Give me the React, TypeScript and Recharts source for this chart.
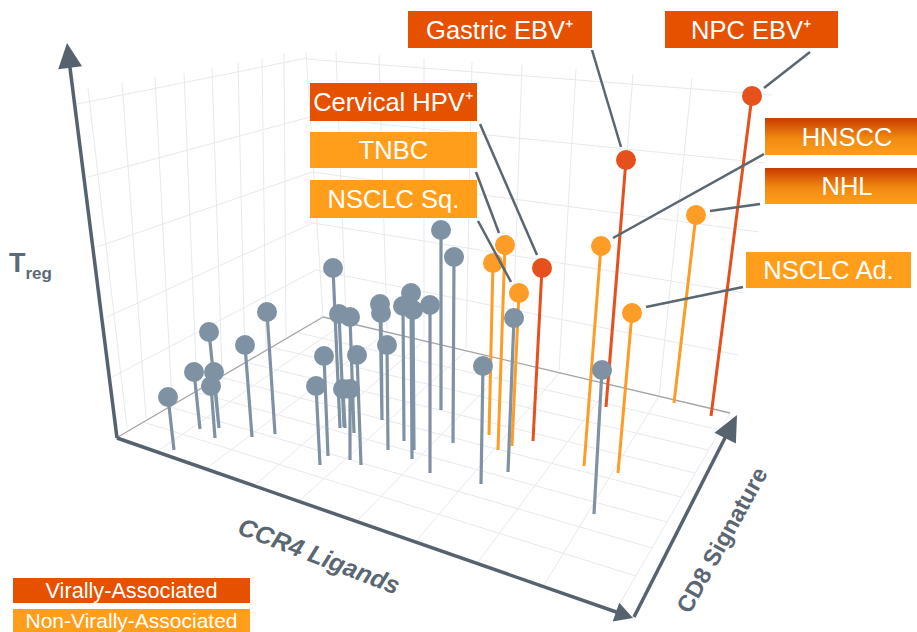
import React from "react";
import { ComposedChart, Line, ReferenceArea, ReferenceLine, Scatter, XAxis, YAxis } from "recharts";

type Pt = [number, number];

const WIDTH = 917;
const HEIGHT = 632;
const FONT = "'Liberation Sans', Arial, sans-serif";

const GRID = "#e7e9ed";
const AXIS = "#56636f";
const GREY = "#7f92a3";
const ORANGE = "#fd9c26";
const RED = "#e6501c";

const greyHeads: Pt[] = [
  [168, 397], [194, 372], [209, 332], [214, 372], [211, 386], [245, 345], [267, 312],
  [316, 386], [324, 356], [333, 268], [339, 314], [350, 317], [343, 389], [350, 389], [357, 355],
  [380, 304], [381, 313], [387, 345], [403, 306], [411, 293], [413, 310], [430, 305],
  [441, 230], [454, 257], [483, 366], [514, 318], [602, 370],
];
const greyBases: Pt[] = [
  [174, 450], [200, 429], [219, 428], [219, 428], [215, 438], [252, 437], [275, 434],
  [320, 465], [328, 456], [340, 428], [344, 427], [354, 433], [345, 428], [350, 460], [361, 465],
  [382, 420], [382, 420], [388, 450], [404, 441], [412, 459], [414, 450], [430, 473],
  [441, 410], [453, 443], [481, 484], [508, 472], [594, 514],
];
const orangeHeads: Pt[] = [[493, 263], [505, 245], [519, 293], [601, 246], [632, 313], [696, 215]];
const orangeBases: Pt[] = [[489, 435], [498, 450], [512, 446], [584, 466], [618, 473], [674, 403]];
const redHeads: Pt[] = [[542, 268], [626, 160], [752, 96]];
const redBases: Pt[] = [[533, 441], [606, 407], [711, 416]];

const leaders: [Pt, Pt][] = [
  [[592, 50], [621, 147]],
  [[810, 52], [764, 88]],
  [[480, 124], [537, 255]],
  [[476, 172], [499, 233]],
  [[478, 221], [511, 282]],
  [[764, 154], [613, 238]],
  [[760, 204], [710, 211]],
  [[743, 287], [646, 307]],
];

const leftWallRows: [Pt, Pt][] = [
  [[77, 104], [307, 58]],
  [[88, 177], [310, 117]],
  [[97, 247], [312, 172]],
  [[107, 317], [313, 223]],
  [[112, 377], [316, 270]],
];
const leftWallCols: [Pt, Pt][] = [
  [[88, 88], [127, 428]],
  [[122, 82], [146, 418]],
  [[155, 77], [172, 403]],
  [[184, 73], [197, 388]],
  [[212, 68], [222, 374]],
  [[238, 63], [245, 361]],
  [[262, 59], [266, 348]],
  [[284, 53], [286, 337]],
  [[306, 52], [323, 317]],
];
const backWallRows: [Pt, Pt][] = [
  [[306, 59], [772, 95]],
  [[310, 117], [765, 163]],
  [[312, 172], [759, 232]],
  [[313, 223], [745, 293]],
  [[316, 270], [738, 355]],
];
const backWallCols: [Pt, Pt][] = [
  [[336, 52], [346, 319]],
  [[379, 55], [387, 329]],
  [[424, 58], [424, 338]],
  [[472, 62], [466, 348]],
  [[522, 65], [512, 359]],
  [[576, 69], [559, 370]],
  [[633, 74], [610, 382]],
  [[692, 78], [659, 396]],
];
const floorCols: [Pt, Pt][] = [
  [[158, 451], [346, 322]],
  [[207, 468], [387, 332]],
  [[255, 485], [424, 341]],
  [[300, 500], [466, 351]],
  [[358, 520], [512, 362]],
  [[417, 540], [559, 373]],
  [[478, 562], [610, 385]],
  [[544, 585], [659, 396]],
  [[619, 605], [730, 413]],
];
const floorRows: [Pt, Pt][] = [
  [[143, 422], [636, 576]],
  [[170, 407], [652, 548]],
  [[195, 392], [667, 522]],
  [[220, 377], [681, 497]],
  [[245, 362], [695, 473]],
  [[270, 347], [708, 450]],
  [[295, 332], [720, 430]],
];
const floorEdges: [Pt, Pt][] = [
  [[118, 437], [323, 317]],
  [[323, 317], [730, 413]],
];
const axisLines: [Pt, Pt][] = [
  [[117, 438], [69, 60]],
  [[117, 438], [622, 614]],
  [[634, 617], [729, 430]],
];

const callouts = [
  { text: "Gastric EBV\u207A", x: [408, 592], y: [11, 48], fill: "#e65100" },
  { text: "NPC EBV\u207A", x: [665, 838], y: [11, 48], fill: "#e65100" },
  { text: "Cervical HPV\u207A", x: [310, 477], y: [83, 121], fill: "#e65100" },
  { text: "TNBC", x: [310, 477], y: [132, 168], fill: "#ff9e1b" },
  { text: "NSCLC Sq.", x: [310, 477], y: [180, 218], fill: "#ff9e1b" },
  { text: "HNSCC", x: [765, 929], y: [118, 155], fill: "url(#mixed)" },
  { text: "NHL", x: [765, 929], y: [168, 204], fill: "url(#mixed)" },
  { text: "NSCLC Ad.", x: [746, 911], y: [252, 288], fill: "#ff9e1b" },
];
const legendItems = [
  { text: "Virally-Associated", x: [13, 250], y: [578, 603], fill: "#e65100" },
  { text: "Non-Virally-Associated", x: [13, 250], y: [609, 632], fill: "#ff9e1b" },
];

const arrowTips = [
  { x: 67, y: 43, angle: -7.2, len: 25, half: 12 },
  { x: 633, y: 618, angle: 109, len: 18, half: 10 },
  { x: 737, y: 415, angle: 27, len: 26, half: 12 },
];

const pts = (list: Pt[]) => list.map(([x, y]) => ({ x, y }));

// one Line per colour, broken between stems by a null point
const stems = (heads: Pt[], bases: Pt[]) =>
  heads.flatMap(([x, y], i) => [
    { x, y },
    { x: bases[i][0], y: bases[i][1] },
    { x: bases[i][0], y: null },
  ]);

const segs = (list: [Pt, Pt][], stroke: string, width: number, key: string, z?: number) =>
  list.map(([a, b], i) => (
    <ReferenceLine
      key={key + i}
      segment={[{ x: a[0], y: a[1] }, { x: b[0], y: b[1] }]}
      stroke={stroke}
      strokeWidth={width}
      ifOverflow="visible"
      {...(z ? { zIndex: z } : {})}
    />
  ));

const Arrow = (props: any) => {
  const { cx, cy, payload } = props;
  const { angle, len, half } = payload;
  return (
    <polygon
      points={`0,0 ${-half},${len} ${half},${len}`}
      transform={`translate(${cx} ${cy}) rotate(${angle})`}
      fill={AXIS}
    />
  );
};

const boxes = (list: typeof callouts, size: number) =>
  list.map((c) => (
    <ReferenceArea
      key={c.text}
      x1={c.x[0]}
      x2={c.x[1]}
      y1={c.y[0]}
      y2={c.y[1]}
      fill={c.fill}
      fillOpacity={1}
      stroke="none"
      ifOverflow="visible"
      zIndex={800}
      label={{ value: c.text, position: "center", fill: "#fff", fontSize: size, fontFamily: FONT }}
    />
  ));

const AxisTitle = (props: any) => {
  const { cx, cy, payload } = props;
  return (
    <text
      transform={`translate(${cx} ${cy}) rotate(${payload.angle})`}
      textAnchor="middle"
      fontFamily={FONT}
      fontWeight="bold"
      fontStyle={payload.italic ? "italic" : "normal"}
      fontSize={payload.size}
      fill={payload.color}
    >
      {payload.text}
    </text>
  );
};

const Treg = (props: any) => (
  <text x={props.cx} y={props.cy} fontFamily={FONT} fontWeight="bold" fill="#5c6a77" fontSize={27}>
    T<tspan fontSize={17} dy={7}>reg</tspan>
  </text>
);

const axisTitles = [
  { x: 316, y: 564, text: "CCR4 Ligands", angle: 21, italic: true, size: 25, color: "#5a6672" },
  { x: 729, y: 544, text: "CD8 Signature", angle: -61, italic: false, size: 23.5, color: "#5a6672" },
];

export default function App() {
  return (
    <div style={{ position: "absolute", left: 0, top: 0, width: WIDTH, height: HEIGHT, background: "#fff", overflow: "hidden" }}>
      <ComposedChart width={WIDTH} height={HEIGHT} margin={{ top: 0, right: 0, bottom: 0, left: 0 }} style={{ overflow: "hidden" }}>
        <defs>
          <linearGradient id="mixed" x1="0" y1="0" x2="0" y2="1">
            <stop offset="0%" stopColor="#c93a00" />
            <stop offset="55%" stopColor="#f08a10" />
            <stop offset="100%" stopColor="#ff9e1b" />
          </linearGradient>
        </defs>
        <XAxis type="number" dataKey="x" domain={[0, WIDTH]} hide allowDataOverflow />
        <YAxis type="number" dataKey="y" domain={[0, HEIGHT]} reversed hide allowDataOverflow width={0} />

        {segs(leftWallRows, GRID, 1, "lr")}
        {segs(leftWallCols, GRID, 1, "lc")}
        {segs(backWallRows, GRID, 1, "br")}
        {segs(backWallCols, GRID, 1, "bc")}
        {segs(floorCols, GRID, 1, "fc")}
        {segs(floorRows, GRID, 1, "fr")}
        {segs(floorEdges, "#a3a5a8", 1.3, "fe")}
        {segs(axisLines, AXIS, 3.5, "ax")}

        <Line data={stems(orangeHeads, orangeBases)} dataKey="y" stroke={ORANGE} strokeWidth={3} dot={false} activeDot={false} isAnimationActive={false} />
        <Line data={stems(redHeads, redBases)} dataKey="y" stroke={RED} strokeWidth={3} dot={false} activeDot={false} isAnimationActive={false} />
        <Line data={stems(greyHeads, greyBases)} dataKey="y" stroke={GREY} strokeWidth={3.2} dot={false} activeDot={false} isAnimationActive={false} />

        <Scatter data={pts(orangeHeads)} dataKey="y" fill={ORANGE} shape={(p: any) => <circle cx={p.cx} cy={p.cy} r={10} fill={ORANGE} />} isAnimationActive={false} />
        <Scatter data={pts(redHeads)} dataKey="y" fill={RED} shape={(p: any) => <circle cx={p.cx} cy={p.cy} r={10} fill={RED} />} isAnimationActive={false} />
        <Scatter data={pts(greyHeads)} dataKey="y" fill={GREY} shape={(p: any) => <circle cx={p.cx} cy={p.cy} r={10} fill={GREY} />} isAnimationActive={false} />

        {segs(leaders, "#5a6670", 2.5, "ld", 700)}
        <Scatter data={arrowTips} dataKey="y" shape={Arrow} isAnimationActive={false} />
        <Scatter data={axisTitles} dataKey="y" shape={AxisTitle} isAnimationActive={false} />
        <Scatter data={[{ x: 9, y: 272 }]} dataKey="y" shape={Treg} isAnimationActive={false} />

        {boxes(callouts, 25.5)}
        {boxes(legendItems.slice(0, 1), 21.7)}
        {boxes(legendItems.slice(1), 21)}
      </ComposedChart>
    </div>
  );
}
